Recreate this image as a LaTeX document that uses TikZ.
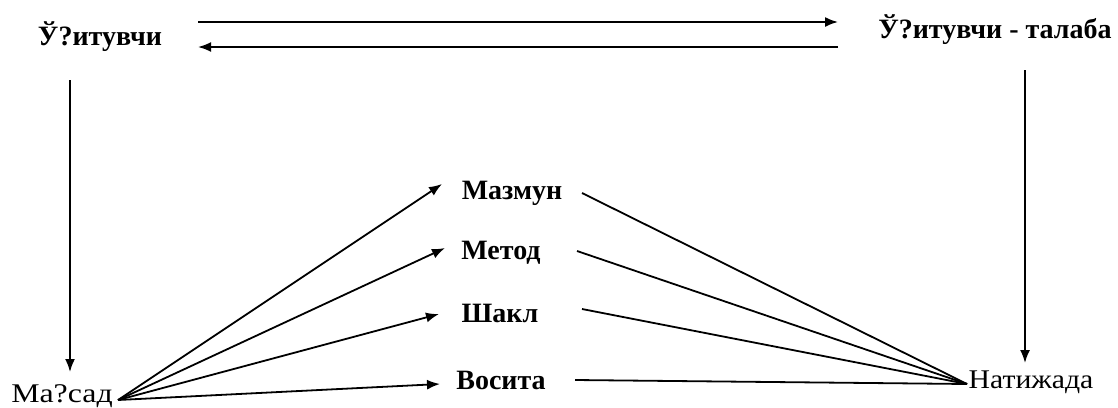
\documentclass[tikz,border=0pt]{standalone}
\usepackage{fontspec}
\setmainfont{Liberation Serif}
\usetikzlibrary{arrows.meta}
\begin{document}
\begin{tikzpicture}[x=1pt,y=-1pt,
  lbl/.style={font=\fontsize{28}{30}\selectfont\bfseries, inner sep=0pt},
  lblr/.style={font=\fontsize{27}{30}\selectfont, inner sep=0pt},
  arr/.style={line width=1.8pt, -{Latex[length=13pt,width=10pt]}},
  ln/.style={line width=1.8pt}]
\useasboundingbox (0,0) rectangle (1118,407);
\node[lbl] (u) at (100,37) {Ў?итувчи};
\node[lbl] (ut) at (995,30) {Ў?итувчи - талаба};
\node[lblr, xscale=1.18] (m) at (62,396) {Ма?сад};
\node[lblr, xscale=1.1] (n) at (1031,382) {Натижада};
\node[lbl] (c1) at (512,193) {Мазмун};
\node[lbl] (c2) at (501,253) {Метод};
\node[lbl] (c3) at (500,313) {Шакл};
\node[lbl] (c4) at (501,380) {Восита};
\coordinate (a1) at (198,22);
\coordinate (b1) at (838,22);
\coordinate (a2) at (838,47);
\coordinate (b2) at (198,47);
\coordinate (v1) at (70,80);
\coordinate (w1) at (70,372);
\coordinate (v2) at (1025,70);
\coordinate (w2) at (1025,363);
\coordinate (ms) at (118,400);
\coordinate (ne) at (967,384);
\coordinate (e1) at (442,184);
\coordinate (e2) at (445,248);
\coordinate (e3) at (439,314);
\coordinate (e4) at (440,384);
\coordinate (s1) at (582,193);
\coordinate (s2) at (577,251);
\coordinate (s3) at (582,309);
\coordinate (s4) at (575,380);
\draw[arr] (a1) -- (b1);
\draw[arr] (a2) -- (b2);
\draw[arr] (v1) -- (w1);
\draw[arr] (v2) -- (w2);
\draw[arr] (ms) -- (e1);
\draw[arr] (ms) -- (e2);
\draw[arr] (ms) -- (e3);
\draw[arr] (ms) -- (e4);
\draw[ln] (s1) -- (ne);
\draw[ln] (s2) -- (ne);
\draw[ln] (s3) -- (ne);
\draw[ln] (s4) -- (ne);
\end{tikzpicture}
\end{document}
